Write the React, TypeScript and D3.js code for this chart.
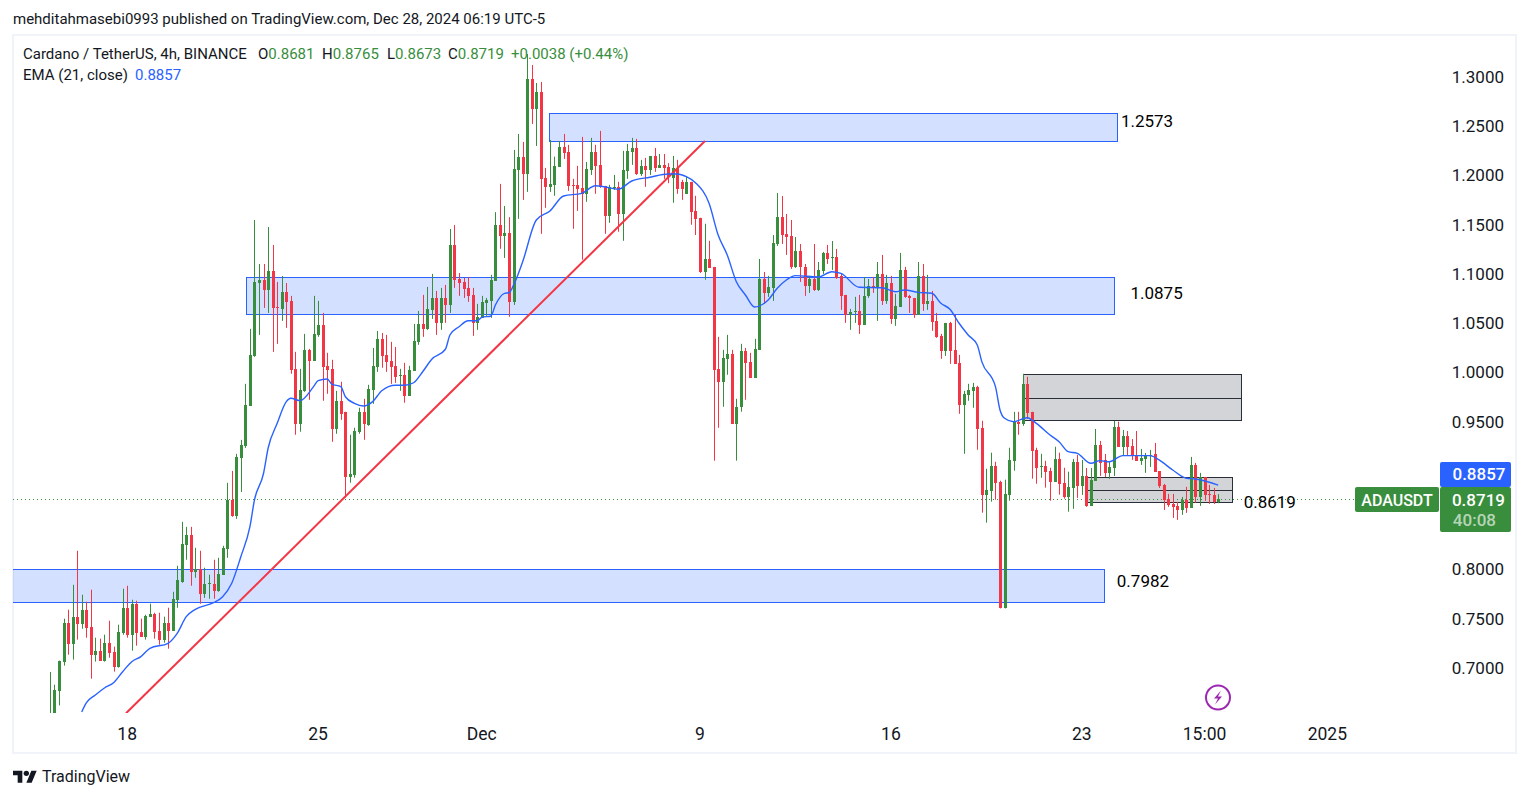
import React from "react";
import * as d3 from "d3";

// 4h candles, one entry per bar
const opens = [
  .640,.650,.677,.7065,.7460,.7247,.7521,.7450,.7592,.7420,.7135,.7176,.7075,.7257,.7166,.7014,.7359,.7612,.7338,.7653,
  .7369,.7318,.7521,.7551,.7379,.7288,.7460,.7379,.7693,.7876,.8251,.8352,.7977,.8008,.7754,.7855,.7855,.7784,.7947,.8210,
  .8707,.8545,.9133,.9255,.9662,1.0169,1.0909,1.0940,1.0838,1.1031,1.0665,1.0646,1.0818,1.0727,1.0037,.9480,.9814,1.0230,1.0118,1.0382,
  1.0483,1.0068,1.0037,.9429,.9713,.9601,.8944,.8964,.9399,.9601,.9470,.9824,1.0058,1.0342,1.0179,1.0118,1.0068,.9970,.9977,.9764,
  1.0017,1.0311,1.0494,1.0443,1.0636,1.0757,1.0504,1.0757,1.0686,1.1295,1.0950,1.0920,1.0859,1.0788,1.0504,1.0555,1.0707,1.0727,1.0930,1.1499,
  1.1387,1.1417,1.0717,1.2057,1.2189,1.2017,1.2980,1.2676,1.2848,1.1976,1.1885,1.1905,1.2088,1.2290,1.2240,1.1905,1.1905,1.1875,1.1814,1.2057,
  1.2240,1.2108,1.1895,1.1591,1.1881,1.1885,1.1611,1.2047,1.2240,1.2280,1.2017,1.2098,1.2057,1.2199,1.2077,1.2108,1.2088,1.1976,1.2077,1.1936,
  1.1814,1.1936,1.1641,1.1569,1.1023,1.1155,1.1072,1.0038,.9906,1.0139,1.0190,.9480,.9652,1.0220,1.0108,.9946,1.0230,1.0950,1.0808,1.0859,
  1.1305,1.1579,1.1406,1.1386,1.1072,1.1234,1.1072,1.0879,1.0950,1.0839,1.1031,1.1214,1.1165,1.1173,1.0981,1.0788,1.0585,1.0620,1.0626,1.0484,
  1.0778,1.0875,1.0859,1.1001,1.0727,1.0910,1.0544,1.0666,1.1041,1.0778,1.0757,1.0585,1.0981,1.0697,1.0727,1.0524,1.0372,1.0220,1.0504,1.0230,
  1.0098,.9672,.9774,.9814,.9855,.9439,.8760,.8800,.9054,.8891,.7610,.8760,.9104,.9500,.9480,.9885,.9601,.9216,.9050,.9054,
  .9003,.8892,.9125,.8881,.8739,.8828,.9092,.8849,.8950,.8646,.8899,.9265,.9112,.8981,.9031,.9447,.9244,.9356,.9254,.9153,
  .9102,.9123,.9153,.9173,.8999,.8859,.8717,.8666,.8646,.8605,.8707,.8626,.9062,.8737,.8940,.8765,.8757,.8681,
];
const highs = [
  .6960,.6831,.7075,.7501,.7592,.7845,.8190,.7744,.7673,.7795,.7308,.7298,.7338,.7480,.7217,.7440,.7805,.7835,.7693,.7683,
  .7501,.7541,.7653,.7561,.7561,.7521,.7612,.7774,.8038,.8484,.8433,.8433,.8221,.8190,.8018,.7947,.8099,.8119,.8241,.8880,
  .9001,.9174,.9316,.9885,1.0443,1.1548,1.1102,1.1102,1.1477,1.1295,1.0920,1.0980,1.0909,1.0778,1.0210,1.0037,1.0392,1.0240,1.0778,1.0727,
  1.0605,1.0200,1.0129,.9814,.9906,.9601,.9368,.9439,.9642,.9733,.9875,1.0250,1.0422,1.0402,1.0382,1.0311,1.0260,1.0037,1.0098,1.0068,
  1.0494,1.0625,1.0788,1.0869,1.1001,1.0828,1.0859,1.0889,1.1457,1.1497,1.1010,1.0960,1.0970,1.0859,1.0697,1.0778,1.0757,1.0991,1.1628,1.1915,
  1.1691,1.1577,1.2260,1.2422,1.2341,1.3233,1.3122,1.2939,1.2950,1.2077,1.2361,1.2192,1.2351,1.2422,1.2311,1.1966,1.2098,1.2392,1.2138,1.2382,
  1.2311,1.2453,1.1895,1.1905,1.2006,1.1936,1.2250,1.2321,1.2382,1.2372,1.2159,1.2179,1.2199,1.2280,1.2219,1.2219,1.2125,1.2199,1.2159,1.1956,
  1.1986,1.1936,1.1794,1.1571,1.1510,1.1337,1.1072,1.0362,1.0230,1.0382,1.0230,.9733,1.0291,1.0250,1.0200,1.0342,1.1153,1.1021,1.0981,1.1396,
  1.1822,1.1792,1.1609,1.1548,1.1376,1.1305,1.1102,1.0981,1.1305,1.1122,1.1224,1.1295,1.1335,1.1254,1.1001,1.0788,1.0646,1.0768,1.0788,1.0970,
  1.0950,1.0970,1.1122,1.1194,1.0991,1.0981,1.0798,1.1214,1.1072,1.0788,1.0757,1.1122,1.1102,1.0991,1.0828,1.0605,1.0392,1.0504,1.0514,1.0585,
  1.0179,.9814,.9885,.9895,.9865,.9510,.9023,.9186,.9094,.8901,.8912,.9236,.9601,.9601,.9987,.9956,.9601,.9236,.9175,.9104,
  .9033,.9246,.9186,.9033,.8993,.9123,.9163,.9112,.9031,.9031,.9427,.9305,.9173,.9092,.9508,.9501,.9417,.9406,.9325,.9406,
  .9224,.9183,.9214,.9285,.8999,.8869,.8768,.8768,.8687,.8737,.8839,.9143,.9082,.8981,.8940,.8859,.8828,.8765,
];
const lows = [
  .630,.645,.662,.7024,.7135,.7085,.7288,.7399,.7308,.6892,.7065,.7075,.7065,.7105,.6963,.7004,.7338,.7308,.7176,.7227,
  .7318,.7288,.7521,.7298,.7237,.7257,.7196,.7379,.7612,.7866,.8099,.7835,.7916,.7653,.7713,.7703,.7703,.7774,.7947,.8119,
  .8535,.8515,.8788,.9235,.9662,1.0159,1.0382,1.0656,1.0605,1.0210,1.0291,1.0524,1.0453,.9987,.9368,.9399,.9804,.9723,1.0118,1.0362,
  .9713,.9784,.9297,.9378,.9520,.8730,.8881,.8932,.9378,.9317,.9459,.9682,1.0007,1.0048,1.0007,.9885,.9895,.9814,.9693,.9764,
  1.0017,1.0281,1.0362,1.0433,1.0544,1.0382,1.0433,1.0504,1.0605,1.0860,1.0778,1.0757,1.0717,1.0372,1.0433,1.0555,1.0575,1.0555,1.0930,1.1256,
  1.1163,1.0565,1.0686,1.1560,1.1753,1.1834,1.2524,1.2300,1.1408,1.1672,1.1834,1.1794,1.2088,1.2169,1.1844,1.1459,1.1641,1.1145,1.1733,1.2006,
  1.1814,1.1875,1.1408,1.1520,1.1854,1.1429,1.1337,1.1966,1.2108,1.2006,1.1996,1.1885,1.2006,1.2037,1.2077,1.1966,1.1922,1.1723,1.1814,1.1753,
  1.1814,1.1500,1.1396,1.1011,1.0942,1.1062,.9105,.9439,.9652,.9977,.9480,.9105,.9602,.9723,.9946,.9946,1.0230,1.0697,1.0768,1.0727,
  1.1285,1.1305,1.1194,1.1052,1.1062,1.0920,1.0778,1.0808,1.0828,1.0828,1.1001,1.1102,1.1041,1.0950,1.0636,1.0504,1.0433,1.0504,1.0392,1.0484,
  1.0758,1.0808,1.0524,1.0686,1.0697,1.0494,1.0474,1.0666,1.0758,1.0605,1.0555,1.0585,1.0626,1.0636,1.0423,1.0352,1.0139,1.0169,1.0088,1.0088,
  .9581,.9175,.9713,.9642,.9216,.8577,.8476,.8689,.8709,.7605,.7605,.8699,.9003,.9368,.9459,.9530,.8922,.8871,.8932,.8831,
  .8699,.8892,.8760,.8719,.8587,.8616,.8727,.8757,.8636,.8646,.8899,.8950,.8940,.8920,.8950,.9244,.9153,.9163,.9112,.9102,
  .9062,.8981,.9041,.8991,.8828,.8605,.8636,.8524,.8504,.8555,.8575,.8626,.8676,.8646,.8697,.8666,.8666,.8673,
];
const closes = [
  .650,.6781,.7075,.7460,.7247,.7521,.7450,.7592,.7409,.7135,.7176,.7075,.7257,.7156,.7014,.7369,.7612,.7338,.7653,.7359,
  .7318,.7531,.7551,.7369,.7288,.7460,.7379,.7703,.7896,.8261,.8352,.7977,.8008,.7754,.7855,.7860,.7784,.7957,.8221,.8707,
  .8545,.9143,.9265,.9670,1.0179,1.0920,1.0940,1.0838,1.1031,1.0656,1.0650,1.0818,1.0717,1.0027,.9480,.9824,1.0230,1.0118,1.0392,1.0483,
  1.0058,1.0027,.9429,.9713,.9581,.8944,.8974,.9409,.9601,.9480,.9835,1.0068,1.0342,1.0169,1.0108,1.0058,.9956,.9975,.9764,1.0027,
  1.0321,1.0494,1.0443,1.0646,1.0757,1.0504,1.0757,1.0686,1.1295,1.0940,1.0910,1.0849,1.0778,1.0504,1.0565,1.0717,1.0737,1.0940,1.1499,1.1388,
  1.1417,1.0717,1.2067,1.2189,1.2017,1.2980,1.2676,1.2848,1.1966,1.1885,1.1915,1.2098,1.2290,1.2230,1.1895,1.1898,1.1865,1.1814,1.2067,1.2240,
  1.2098,1.1885,1.1591,1.1885,1.1885,1.1611,1.2057,1.2250,1.2280,1.2017,1.2098,1.2057,1.2199,1.2077,1.2108,1.2077,1.1986,1.2077,1.1865,1.1865,
  1.1936,1.1631,1.1560,1.1023,1.1155,1.1063,1.0027,.9906,1.0149,1.0190,.9480,.9652,1.0220,1.0098,.9946,1.0240,1.0950,1.0808,1.0869,1.1315,
  1.1579,1.1396,1.1376,1.1072,1.1234,1.1072,1.0879,1.0950,1.0839,1.1041,1.1214,1.1153,1.1170,1.0960,1.0778,1.0585,1.0615,1.0625,1.0484,1.0778,
  1.0879,1.0870,1.1001,1.0727,1.0910,1.0544,1.0676,1.1041,1.0768,1.0757,1.0585,1.0981,1.0697,1.0727,1.0514,1.0362,1.0220,1.0504,1.0220,1.0088,
  .9672,.9784,.9824,.9855,.9429,.8760,.8810,.9054,.8881,.7610,.8770,.9115,.9510,.9480,.9885,.9591,.9206,.9033,.9055,.8993,
  .8892,.9125,.8871,.8739,.8841,.9092,.8849,.8950,.8646,.8910,.9265,.9082,.8981,.9041,.9447,.9244,.9356,.9244,.9153,.9102,
  .9133,.9163,.9163,.8991,.8849,.8707,.8656,.8636,.8605,.8707,.8626,.9062,.8737,.8940,.8757,.8760,.8681,.8719,
];

// EMA(21), bar number + price
const emaBars = [7,8,10,12,14,16,18,20,22,26,28,30,32,36,38,40,42,44,45,47,48,50,52,53,55,58,59,61,62,64,65,67,69,71,73,76,78,80,82,84,87,88,90,92,94,95,97,98,100,101,102,104,107,110,113,117,120,122,125,128,132,136,138,140,142,145,147,149,151,153,155,158,160,162,164,169,172,174,178,183,186,188,191,194,196,198,200,202,204,205,208,209,210,212,215,217,220,222,224,226,229,231,233,236,242,244,247,250,252,257];
const emaValues = [.6553,.6645,.6726,.6797,.6851,.6962,.7064,.7115,.7200,.7251,.7352,.7521,.7596,.7663,.7724,.7860,.8130,.8435,.8706,.8977,.9231,.9484,.9704,.9738,.9714,.9856,.9917,.9934,.9883,.9856,.9754,.9687,.9660,.9704,.9815,.9870,.9870,.9896,1.0008,1.0134,1.0236,1.0381,1.0465,1.0526,1.0526,1.0560,1.0574,1.0685,1.0804,1.0810,1.0888,1.1125,1.1548,1.1640,1.1792,1.1819,1.1896,1.1886,1.1860,1.1944,1.1982,1.2015,1.2015,1.1988,1.1927,1.1718,1.1396,1.1193,1.0922,1.0787,1.0665,1.0736,1.0855,1.0939,1.0983,1.0970,1.1023,1.1007,1.0865,1.0861,1.0820,1.0838,1.0814,1.0804,1.0703,1.0642,1.0500,1.0381,1.0279,1.0110,.9856,.9619,.9535,.9500,.9541,.9484,.9365,.9297,.9196,.9179,.9078,.9105,.9094,.9156,.9156,.9112,.9010,.8926,.8919,.8857];

const priceTicks = [1.3, 1.25, 1.2, 1.15, 1.1, 1.05, 1.0, 0.95, 0.8, 0.75, 0.7];
const timeTickBars = [17, 59, 95, 143, 185, 227, 254, 281];
const timeTickLabels = ["18", "25", "Dec", "9", "16", "23", "15:00", "2025"];

// drawn zones: [bar from, bar to, price top, price bottom]
const blueZones = [
  [110, 234.95, 1.263, 1.2345],
  [43.25, 234.2, 1.0964, 1.0589],
  [-20, 232.2, 0.8, 0.7665],
];
// gray zones also have a middle line
const grayZones = [
  [214.2, 262.1, 0.9975, 0.9503, 0.9741],
  [228, 260.1, 0.8939, 0.8682, 0.8804],
];
const zoneLabels = [
  { text: "1.2573", bar: 235.6, price: 1.2553 },
  { text: "1.0875", bar: 237.7, price: 1.0805 },
  { text: "0.7982", bar: 234.7, price: 0.7886 },
  { text: "0.8619", bar: 262.6, price: 0.868 },
];
const trendBars = [16.74, 144.1];
const trendPrices = [0.654, 1.235];

const lastClose = 0.8719;
const lastEma = 0.8857;

const GREEN = "#388e3c";
const RED = "#f23645";
const BLUE = "#2962ff";
const INK = "#131722";
const FONT = "Roboto, sans-serif";

const x = d3.scaleLinear().domain([0, 281]).range([49.9, 1327.3]);
const y = d3.scaleLinear().domain([0.7, 1.3]).range([668, 77]);

const App = () => {
  const emaLine = d3
    .line<number>()
    .x((b) => x(b))
    .y((_, i) => y(emaValues[i]))
    .curve(d3.curveMonotoneX);

  return (
    <svg
      width={1529}
      height={798}
      style={{ position: "absolute", left: 0, top: 0, background: "#fff" }}
      fontFamily={FONT}
    >
      <defs>
        <clipPath id="pane">
          <rect x={13} y={36} width={1502} height={677} />
        </clipPath>
      </defs>

      <text x={13} y={24} fontSize={15} fill={INK}>
        mehditahmasebi0993 published on TradingView.com, Dec 28, 2024 06:19 UTC-5
      </text>
      <rect x={13} y={35} width={1503} height={718} fill="none" stroke="#f0f3fa" strokeWidth={2} />

      <g clipPath="url(#pane)">
        {/* zones sit under the candles */}
        {blueZones.map((z, i) => (
          <rect
            key={i}
            x={Math.floor(x(z[0])) + 0.5}
            y={Math.floor(y(z[2])) + 0.5}
            width={Math.round(x(z[1]) - x(z[0]))}
            height={Math.round(y(z[3]) - y(z[2]))}
            fill={BLUE}
            fillOpacity={0.2}
            stroke={BLUE}
          />
        ))}
        {grayZones.map((z, i) => (
          <g key={i}>
            <rect
              x={Math.floor(x(z[0])) + 0.5}
              y={Math.floor(y(z[2])) + 0.5}
              width={Math.round(x(z[1]) - x(z[0]))}
              height={Math.round(y(z[3]) - y(z[2]))}
              fill="#787b86"
              fillOpacity={0.33}
              stroke="#2a2e39"
            />
            <line
              x1={x(z[0])}
              x2={x(z[1])}
              y1={Math.floor(y(z[4])) + 0.5}
              y2={Math.floor(y(z[4])) + 0.5}
              stroke="#2a2e39"
            />
          </g>
        ))}

        <line
          x1={13}
          x2={1355}
          y1={Math.round(y(lastClose)) + 0.5}
          y2={Math.round(y(lastClose)) + 0.5}
          stroke={GREEN}
          strokeDasharray="1 3"
        />

        {closes.map((c, i) => {
          const color = c >= opens[i] ? GREEN : RED;
          const cx = Math.round(x(i));
          const top = Math.round(y(Math.max(opens[i], c)));
          const bottom = Math.round(y(Math.min(opens[i], c)));
          return (
            <g key={i} fill={color}>
              <rect x={cx} y={y(highs[i])} width={1} height={y(lows[i]) - y(highs[i])} />
              <rect x={cx - 1} y={top} width={3} height={Math.max(1, bottom - top)} />
            </g>
          );
        })}

        <line
          x1={x(trendBars[0])}
          y1={y(trendPrices[0])}
          x2={x(trendBars[1])}
          y2={y(trendPrices[1])}
          stroke={RED}
          strokeWidth={2}
        />
        <path d={emaLine(emaBars) ?? ""} fill="none" stroke={BLUE} strokeWidth={1.4} />
      </g>

      {/* legend */}
      <g fontSize={15} fill={INK}>
        <text x={23} y={59}>Cardano / TetherUS, 4h, BINANCE</text>
        <text x={258} y={59}>O<tspan fill={GREEN}>0.8681</tspan></text>
        <text x={322} y={59}>H<tspan fill={GREEN}>0.8765</tspan></text>
        <text x={387} y={59}>L<tspan fill={GREEN}>0.8673</tspan></text>
        <text x={448} y={59}>C<tspan fill={GREEN}>0.8719</tspan></text>
        <text x={511} y={59} fill={GREEN}>+0.0038 (+0.44%)</text>
        <text x={23} y={80}>EMA (21, close)</text>
        <text x={135} y={80} fill={BLUE}>0.8857</text>
      </g>

      {zoneLabels.map((l) => (
        <text key={l.text} x={x(l.bar)} y={y(l.price)} dy="0.35em" fontSize={17} fill="#000">
          {l.text}
        </text>
      ))}

      {/* price scale */}
      {priceTicks.map((p) => (
        <text key={p} x={1504} y={y(p)} dy="0.35em" textAnchor="end" fontSize={17} fill={INK}>
          {d3.format(".4f")(p)}
        </text>
      ))}

      {/* time scale */}
      {timeTickBars.map((b, i) => (
        <text key={b} x={x(b)} y={740} textAnchor="middle" fontSize={17.5} fill={INK}>
          {timeTickLabels[i]}
        </text>
      ))}

      {/* last price tags */}
      <rect x={1440} y={462} width={71} height={25} rx={2} fill={BLUE} />
      <text x={1505} y={474.5} textAnchor="middle" dx={-26} dy="0.35em" fontSize={17} fontWeight={500} fill="#fff">
        {lastEma}
      </text>
      <rect x={1440} y={487} width={71} height={45} rx={2} fill={GREEN} />
      <text x={1505} y={y(lastClose) + 1} textAnchor="end" dy="0.35em" fontSize={17} fontWeight={500} fill="#fff">
        {lastClose}
      </text>
      <text x={1496} y={520} textAnchor="end" dy="0.35em" fontSize={17} fontWeight={500} fill="#fff" fillOpacity={0.65}>
        40:08
      </text>
      <rect x={1355} y={487} width={84} height={25} rx={2} fill={GREEN} />
      <text x={1397} y={500} textAnchor="middle" dy="0.35em" fontSize={16} fontWeight={500} fill="#fff">
        ADAUSDT
      </text>

      {/* publish marker */}
      <g transform="translate(1218,697.5)" fill="none" stroke="#9c27b0">
        <circle r={12} strokeWidth={2} />
        <path d="M3-7L-4 1H0L-3 7L4-1H0Z" fill="#9c27b0" stroke="none" />
      </g>

      {/* logo */}
      <g transform="translate(13,768) scale(0.667)" fill={INK}>
        <path d="M14 22H7V11H0V4h14v18zM28 22h-8l7.5-18h8L28 22z" />
        <circle cx={20} cy={8} r={4} />
      </g>
      <text x={42} y={782} fontSize={16} fill={INK}>TradingView</text>
    </svg>
  );
};

export default App;
